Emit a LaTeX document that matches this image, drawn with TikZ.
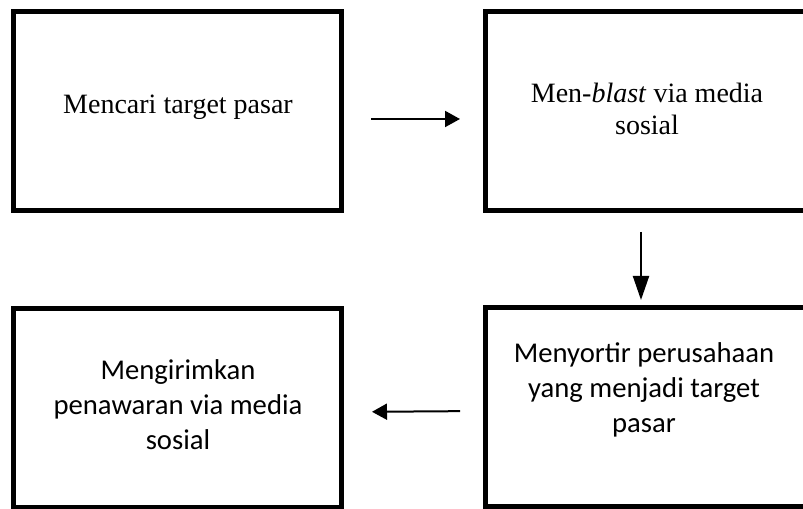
\documentclass[tikz,border=0pt]{standalone}
\usepackage{fontspec}
\setmainfont{Liberation Serif}
\newfontfamily\calfont{Carlito}
\usetikzlibrary{arrows.meta}
\begin{document}
\begin{tikzpicture}[x=0.75pt,y=-0.75pt,
  box/.style={draw=black,line width=3.75pt,minimum width=246pt,minimum height=149.25pt,inner sep=0pt},
  serlbl/.style={align=center,font=\fontsize{21pt}{24pt}\selectfont},
  callbl/.style={align=center,font=\calfont\fontsize{21.5pt}{26.25pt}\selectfont},
  arr/.style={line width=1.5pt,-{Triangle[length=11.25pt,width=12pt]}},
  arrv/.style={line width=1.5pt,-{Triangle[length=18pt,width=12pt]}}]
\useasboundingbox (0,0) rectangle (803,509);
\clip (0,0) rectangle (803,509);
\node[box] (b1) at (177.5,111) {};
\node[box] (b2) at (649.5,111) {};
\node[box] (b3) at (177.5,408) {};
\node[box] (b4) at (649.5,407) {};
\node[serlbl] (t1) at (178,107) {Mencari target pasar};
\node[serlbl] (t2) at (647,109) {Men-\textit{blast} via media\\sosial};
\node[callbl] (t3) at (178,405) {Mengirimkan\\penawaran via media\\sosial};
\node[callbl] (t4) at (644,390) {Menyortir perusahaan\\yang menjadi target\\pasar};
\draw[arr,shorten <=20.25pt,shorten >=17.25pt] ([yshift=-6pt]b1.east) -- ([yshift=-6pt]b2.west);
\draw[arrv,shorten <=14.25pt,shorten >=3.75pt] ([xshift=-6.375pt]b2.south) -- ([xshift=-6.375pt]b4.north);
\draw[arr,shorten <=17.25pt,shorten >=21pt] ([yshift=-3pt]b4.west) -- ([yshift=-3pt]b3.east);
\end{tikzpicture}
\end{document}
